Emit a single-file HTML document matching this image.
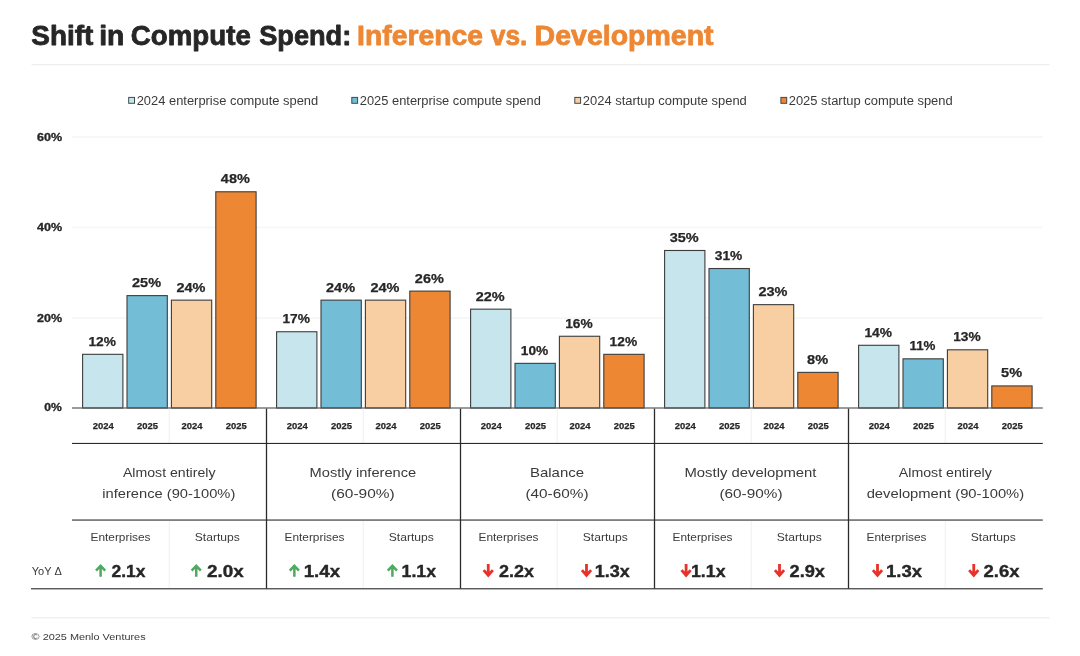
<!DOCTYPE html>
<html lang="en">
<head>
<meta charset="utf-8">
<title>Shift in Compute Spend: Inference vs. Development</title>
<style>
html,body{margin:0;padding:0;background:#fff;}
body{width:1080px;height:656px;overflow:hidden;font-family:"Liberation Sans",sans-serif;}
svg{display:block;}
text{font-family:"Liberation Sans",sans-serif;}
</style>
</head>
<body>
<svg width="1080" height="656" viewBox="0 0 1080 656">
<rect width="1080" height="656" fill="#fff"/>

<g id="title">
<text x="31.3" y="44.6" font-size="27" font-weight="700" fill="#262626" stroke="#262626" stroke-width="0.8" stroke-linejoin="round" textLength="62.01" lengthAdjust="spacingAndGlyphs">Shift</text>
<text x="99.2" y="44.6" font-size="27" font-weight="700" fill="#262626" stroke="#262626" stroke-width="0.8" stroke-linejoin="round" textLength="25.19" lengthAdjust="spacingAndGlyphs">in</text>
<text x="130.8" y="44.6" font-size="27" font-weight="700" fill="#262626" stroke="#262626" stroke-width="0.8" stroke-linejoin="round" textLength="120.0" lengthAdjust="spacingAndGlyphs">Compute</text>
<text x="259.2" y="44.6" font-size="27" font-weight="700" fill="#262626" stroke="#262626" stroke-width="0.8" stroke-linejoin="round" textLength="92.03" lengthAdjust="spacingAndGlyphs">Spend:</text>
<text x="357.09" y="44.6" font-size="27" font-weight="700" fill="#ee8733" stroke="#ee8733" stroke-width="0.8" stroke-linejoin="round" textLength="126.02" lengthAdjust="spacingAndGlyphs">Inference</text>
<text x="490.8" y="44.6" font-size="27" font-weight="700" fill="#ee8733" stroke="#ee8733" stroke-width="0.8" stroke-linejoin="round" textLength="36.56" lengthAdjust="spacingAndGlyphs">vs.</text>
<text x="534.6" y="44.6" font-size="27" font-weight="700" fill="#ee8733" stroke="#ee8733" stroke-width="0.8" stroke-linejoin="round" textLength="179.0" lengthAdjust="spacingAndGlyphs">Development</text>
<rect x="31.5" y="63.9" width="1018" height="1.3" fill="#eeeeee"/>
</g>
<g id="legend">
<rect x="128.7" y="97.4" width="5.8" height="5.9" fill="#c6e5ed" stroke="#3f4a4f" stroke-width="1"/>
<text x="136.7" y="104.8" font-size="12" fill="#3a3a3a" textLength="181.51" lengthAdjust="spacingAndGlyphs">2024 enterprise compute spend</text>
<rect x="351.8" y="97.4" width="5.8" height="5.9" fill="#74bdd7" stroke="#3f4a4f" stroke-width="1"/>
<text x="359.8" y="104.8" font-size="12" fill="#3a3a3a" textLength="181.0" lengthAdjust="spacingAndGlyphs">2025 enterprise compute spend</text>
<rect x="574.8" y="97.4" width="5.8" height="5.9" fill="#f8cfa3" stroke="#3f4a4f" stroke-width="1"/>
<text x="582.8" y="104.8" font-size="12" fill="#3a3a3a" textLength="164.0" lengthAdjust="spacingAndGlyphs">2024 startup compute spend</text>
<rect x="780.9" y="97.4" width="5.8" height="5.9" fill="#ee8733" stroke="#3f4a4f" stroke-width="1"/>
<text x="788.7" y="104.8" font-size="12" fill="#3a3a3a" textLength="164.0" lengthAdjust="spacingAndGlyphs">2025 startup compute spend</text>
</g>
<g id="grid">
<rect x="72" y="136.10" width="970.8" height="1.8" fill="#f7f7f7"/>
<rect x="72" y="226.60" width="970.8" height="1.8" fill="#f7f7f7"/>
<rect x="72" y="317.10" width="970.8" height="1.8" fill="#f7f7f7"/>
<text x="37.0" y="140.6" font-size="10" font-weight="700" fill="#262626" stroke="#262626" stroke-width="0.3" stroke-linejoin="round" textLength="25.02" lengthAdjust="spacingAndGlyphs">60%</text>
<text x="37.0" y="231.1" font-size="10" font-weight="700" fill="#262626" stroke="#262626" stroke-width="0.3" stroke-linejoin="round" textLength="25.02" lengthAdjust="spacingAndGlyphs">40%</text>
<text x="37.0" y="321.6" font-size="10" font-weight="700" fill="#262626" stroke="#262626" stroke-width="0.3" stroke-linejoin="round" textLength="25.02" lengthAdjust="spacingAndGlyphs">20%</text>
<text x="44.3" y="411.4" font-size="10" font-weight="700" fill="#262626" stroke="#262626" stroke-width="0.3" stroke-linejoin="round" textLength="17.51" lengthAdjust="spacingAndGlyphs">0%</text>
</g>
<g id="bars">
<rect x="168.70" y="409" width="1" height="34" fill="#f0f0f0"/>
<rect x="168.70" y="521" width="1" height="67" fill="#f0f0f0"/>
<rect x="82.60" y="354.32" width="40.30" height="53.68" fill="#c6e5ed" stroke="#3c3c3c" stroke-width="1.1"/>
<text x="88.4" y="345.72" font-size="13.2" font-weight="700" fill="#262626" stroke="#262626" stroke-width="0.25" stroke-linejoin="round" textLength="27.52" lengthAdjust="spacingAndGlyphs">12%</text>
<text x="92.65" y="429.1" font-size="9.9" font-weight="700" fill="#262626" stroke="#262626" stroke-width="0.25" stroke-linejoin="round" textLength="21.0" lengthAdjust="spacingAndGlyphs">2024</text>
<rect x="127.00" y="295.62" width="40.30" height="112.38" fill="#74bdd7" stroke="#3c3c3c" stroke-width="1.1"/>
<text x="132.05" y="287.02" font-size="13.2" font-weight="700" fill="#262626" stroke="#262626" stroke-width="0.25" stroke-linejoin="round" textLength="29.0" lengthAdjust="spacingAndGlyphs">25%</text>
<text x="137.05" y="429.1" font-size="9.9" font-weight="700" fill="#262626" stroke="#262626" stroke-width="0.25" stroke-linejoin="round" textLength="21.0" lengthAdjust="spacingAndGlyphs">2025</text>
<rect x="171.40" y="300.14" width="40.30" height="107.86" fill="#f8cfa3" stroke="#3c3c3c" stroke-width="1.1"/>
<text x="176.45" y="291.54" font-size="13.2" font-weight="700" fill="#262626" stroke="#262626" stroke-width="0.25" stroke-linejoin="round" textLength="29.0" lengthAdjust="spacingAndGlyphs">24%</text>
<text x="181.45" y="429.1" font-size="9.9" font-weight="700" fill="#262626" stroke="#262626" stroke-width="0.25" stroke-linejoin="round" textLength="21.0" lengthAdjust="spacingAndGlyphs">2024</text>
<rect x="215.80" y="191.78" width="40.30" height="216.22" fill="#ee8733" stroke="#3c3c3c" stroke-width="1.1"/>
<text x="220.85" y="183.18" font-size="13.2" font-weight="700" fill="#262626" stroke="#262626" stroke-width="0.25" stroke-linejoin="round" textLength="29.0" lengthAdjust="spacingAndGlyphs">48%</text>
<text x="225.85" y="429.1" font-size="9.9" font-weight="700" fill="#262626" stroke="#262626" stroke-width="0.25" stroke-linejoin="round" textLength="21.0" lengthAdjust="spacingAndGlyphs">2025</text>
<rect x="362.70" y="409" width="1" height="34" fill="#f0f0f0"/>
<rect x="362.70" y="521" width="1" height="67" fill="#f0f0f0"/>
<rect x="276.60" y="331.75" width="40.30" height="76.25" fill="#c6e5ed" stroke="#3c3c3c" stroke-width="1.1"/>
<text x="282.4" y="323.14" font-size="13.2" font-weight="700" fill="#262626" stroke="#262626" stroke-width="0.25" stroke-linejoin="round" textLength="27.52" lengthAdjust="spacingAndGlyphs">17%</text>
<text x="286.65" y="429.1" font-size="9.9" font-weight="700" fill="#262626" stroke="#262626" stroke-width="0.25" stroke-linejoin="round" textLength="21.0" lengthAdjust="spacingAndGlyphs">2024</text>
<rect x="321.00" y="300.14" width="40.30" height="107.86" fill="#74bdd7" stroke="#3c3c3c" stroke-width="1.1"/>
<text x="326.05" y="291.54" font-size="13.2" font-weight="700" fill="#262626" stroke="#262626" stroke-width="0.25" stroke-linejoin="round" textLength="29.0" lengthAdjust="spacingAndGlyphs">24%</text>
<text x="331.05" y="429.1" font-size="9.9" font-weight="700" fill="#262626" stroke="#262626" stroke-width="0.25" stroke-linejoin="round" textLength="21.0" lengthAdjust="spacingAndGlyphs">2025</text>
<rect x="365.40" y="300.14" width="40.30" height="107.86" fill="#f8cfa3" stroke="#3c3c3c" stroke-width="1.1"/>
<text x="370.45" y="291.54" font-size="13.2" font-weight="700" fill="#262626" stroke="#262626" stroke-width="0.25" stroke-linejoin="round" textLength="29.0" lengthAdjust="spacingAndGlyphs">24%</text>
<text x="375.45" y="429.1" font-size="9.9" font-weight="700" fill="#262626" stroke="#262626" stroke-width="0.25" stroke-linejoin="round" textLength="21.0" lengthAdjust="spacingAndGlyphs">2024</text>
<rect x="409.80" y="291.11" width="40.30" height="116.89" fill="#ee8733" stroke="#3c3c3c" stroke-width="1.1"/>
<text x="414.85" y="282.51" font-size="13.2" font-weight="700" fill="#262626" stroke="#262626" stroke-width="0.25" stroke-linejoin="round" textLength="29.0" lengthAdjust="spacingAndGlyphs">26%</text>
<text x="419.85" y="429.1" font-size="9.9" font-weight="700" fill="#262626" stroke="#262626" stroke-width="0.25" stroke-linejoin="round" textLength="21.0" lengthAdjust="spacingAndGlyphs">2025</text>
<rect x="556.70" y="409" width="1" height="34" fill="#f0f0f0"/>
<rect x="556.70" y="521" width="1" height="67" fill="#f0f0f0"/>
<rect x="470.60" y="309.17" width="40.30" height="98.83" fill="#c6e5ed" stroke="#3c3c3c" stroke-width="1.1"/>
<text x="475.65" y="300.57" font-size="13.2" font-weight="700" fill="#262626" stroke="#262626" stroke-width="0.25" stroke-linejoin="round" textLength="29.0" lengthAdjust="spacingAndGlyphs">22%</text>
<text x="480.65" y="429.1" font-size="9.9" font-weight="700" fill="#262626" stroke="#262626" stroke-width="0.25" stroke-linejoin="round" textLength="21.0" lengthAdjust="spacingAndGlyphs">2024</text>
<rect x="515.00" y="363.35" width="40.30" height="44.65" fill="#74bdd7" stroke="#3c3c3c" stroke-width="1.1"/>
<text x="520.8" y="354.75" font-size="13.2" font-weight="700" fill="#262626" stroke="#262626" stroke-width="0.25" stroke-linejoin="round" textLength="27.52" lengthAdjust="spacingAndGlyphs">10%</text>
<text x="525.05" y="429.1" font-size="9.9" font-weight="700" fill="#262626" stroke="#262626" stroke-width="0.25" stroke-linejoin="round" textLength="21.0" lengthAdjust="spacingAndGlyphs">2025</text>
<rect x="559.40" y="336.26" width="40.30" height="71.74" fill="#f8cfa3" stroke="#3c3c3c" stroke-width="1.1"/>
<text x="565.2" y="327.66" font-size="13.2" font-weight="700" fill="#262626" stroke="#262626" stroke-width="0.25" stroke-linejoin="round" textLength="27.52" lengthAdjust="spacingAndGlyphs">16%</text>
<text x="569.45" y="429.1" font-size="9.9" font-weight="700" fill="#262626" stroke="#262626" stroke-width="0.25" stroke-linejoin="round" textLength="21.0" lengthAdjust="spacingAndGlyphs">2024</text>
<rect x="603.80" y="354.32" width="40.30" height="53.68" fill="#ee8733" stroke="#3c3c3c" stroke-width="1.1"/>
<text x="609.6" y="345.72" font-size="13.2" font-weight="700" fill="#262626" stroke="#262626" stroke-width="0.25" stroke-linejoin="round" textLength="27.52" lengthAdjust="spacingAndGlyphs">12%</text>
<text x="613.85" y="429.1" font-size="9.9" font-weight="700" fill="#262626" stroke="#262626" stroke-width="0.25" stroke-linejoin="round" textLength="21.0" lengthAdjust="spacingAndGlyphs">2025</text>
<rect x="750.70" y="409" width="1" height="34" fill="#f0f0f0"/>
<rect x="750.70" y="521" width="1" height="67" fill="#f0f0f0"/>
<rect x="664.60" y="250.48" width="40.30" height="157.52" fill="#c6e5ed" stroke="#3c3c3c" stroke-width="1.1"/>
<text x="669.65" y="241.88" font-size="13.2" font-weight="700" fill="#262626" stroke="#262626" stroke-width="0.25" stroke-linejoin="round" textLength="29.0" lengthAdjust="spacingAndGlyphs">35%</text>
<text x="674.65" y="429.1" font-size="9.9" font-weight="700" fill="#262626" stroke="#262626" stroke-width="0.25" stroke-linejoin="round" textLength="21.0" lengthAdjust="spacingAndGlyphs">2024</text>
<rect x="709.00" y="268.53" width="40.30" height="139.47" fill="#74bdd7" stroke="#3c3c3c" stroke-width="1.1"/>
<text x="714.8" y="259.93" font-size="13.2" font-weight="700" fill="#262626" stroke="#262626" stroke-width="0.25" stroke-linejoin="round" textLength="27.52" lengthAdjust="spacingAndGlyphs">31%</text>
<text x="719.05" y="429.1" font-size="9.9" font-weight="700" fill="#262626" stroke="#262626" stroke-width="0.25" stroke-linejoin="round" textLength="21.0" lengthAdjust="spacingAndGlyphs">2025</text>
<rect x="753.40" y="304.65" width="40.30" height="103.35" fill="#f8cfa3" stroke="#3c3c3c" stroke-width="1.1"/>
<text x="758.45" y="296.05" font-size="13.2" font-weight="700" fill="#262626" stroke="#262626" stroke-width="0.25" stroke-linejoin="round" textLength="29.0" lengthAdjust="spacingAndGlyphs">23%</text>
<text x="763.45" y="429.1" font-size="9.9" font-weight="700" fill="#262626" stroke="#262626" stroke-width="0.25" stroke-linejoin="round" textLength="21.0" lengthAdjust="spacingAndGlyphs">2024</text>
<rect x="797.80" y="372.38" width="40.30" height="35.62" fill="#ee8733" stroke="#3c3c3c" stroke-width="1.1"/>
<text x="807.05" y="363.78" font-size="13.2" font-weight="700" fill="#262626" stroke="#262626" stroke-width="0.25" stroke-linejoin="round" textLength="21.03" lengthAdjust="spacingAndGlyphs">8%</text>
<text x="807.85" y="429.1" font-size="9.9" font-weight="700" fill="#262626" stroke="#262626" stroke-width="0.25" stroke-linejoin="round" textLength="21.0" lengthAdjust="spacingAndGlyphs">2025</text>
<rect x="944.70" y="409" width="1" height="34" fill="#f0f0f0"/>
<rect x="944.70" y="521" width="1" height="67" fill="#f0f0f0"/>
<rect x="858.60" y="345.29" width="40.30" height="62.71" fill="#c6e5ed" stroke="#3c3c3c" stroke-width="1.1"/>
<text x="864.4" y="336.69" font-size="13.2" font-weight="700" fill="#262626" stroke="#262626" stroke-width="0.25" stroke-linejoin="round" textLength="27.52" lengthAdjust="spacingAndGlyphs">14%</text>
<text x="868.65" y="429.1" font-size="9.9" font-weight="700" fill="#262626" stroke="#262626" stroke-width="0.25" stroke-linejoin="round" textLength="21.0" lengthAdjust="spacingAndGlyphs">2024</text>
<rect x="903.00" y="358.83" width="40.30" height="49.17" fill="#74bdd7" stroke="#3c3c3c" stroke-width="1.1"/>
<text x="909.45" y="350.23" font-size="13.2" font-weight="700" fill="#262626" stroke="#262626" stroke-width="0.25" stroke-linejoin="round" textLength="26.01" lengthAdjust="spacingAndGlyphs">11%</text>
<text x="913.05" y="429.1" font-size="9.9" font-weight="700" fill="#262626" stroke="#262626" stroke-width="0.25" stroke-linejoin="round" textLength="21.0" lengthAdjust="spacingAndGlyphs">2025</text>
<rect x="947.40" y="349.81" width="40.30" height="58.19" fill="#f8cfa3" stroke="#3c3c3c" stroke-width="1.1"/>
<text x="953.2" y="341.2" font-size="13.2" font-weight="700" fill="#262626" stroke="#262626" stroke-width="0.25" stroke-linejoin="round" textLength="27.52" lengthAdjust="spacingAndGlyphs">13%</text>
<text x="957.45" y="429.1" font-size="9.9" font-weight="700" fill="#262626" stroke="#262626" stroke-width="0.25" stroke-linejoin="round" textLength="21.0" lengthAdjust="spacingAndGlyphs">2024</text>
<rect x="991.80" y="385.93" width="40.30" height="22.07" fill="#ee8733" stroke="#3c3c3c" stroke-width="1.1"/>
<text x="1001.05" y="377.32" font-size="13.2" font-weight="700" fill="#262626" stroke="#262626" stroke-width="0.25" stroke-linejoin="round" textLength="21.03" lengthAdjust="spacingAndGlyphs">5%</text>
<text x="1001.85" y="429.1" font-size="9.9" font-weight="700" fill="#262626" stroke="#262626" stroke-width="0.25" stroke-linejoin="round" textLength="21.0" lengthAdjust="spacingAndGlyphs">2025</text>
</g>
<g id="lines" fill="#2b2b2b">
<rect x="72" y="407.4" width="970.8" height="1.2" fill="#5a5a5a"/>
<rect x="72" y="442.9" width="970.8" height="1.1"/>
<rect x="72" y="519.5" width="970.8" height="1.1"/>
<rect x="31" y="588.1" width="1011.8" height="1.3" fill="#4a4a4a"/>
<rect x="265.85" y="408.6" width="1.3" height="180"/>
<rect x="459.85" y="408.6" width="1.3" height="180"/>
<rect x="653.85" y="408.6" width="1.3" height="180"/>
<rect x="847.85" y="408.6" width="1.3" height="180"/>
</g>
<g id="cats">
<text x="122.95" y="476.5" font-size="13.3" fill="#3a3a3a" textLength="92.51" lengthAdjust="spacingAndGlyphs">Almost entirely</text>
<text x="102.29" y="498.1" font-size="13.3" fill="#3a3a3a" textLength="133.02" lengthAdjust="spacingAndGlyphs">inference (90-100%)</text>
<text x="90.49" y="540.8" font-size="11.5" fill="#3a3a3a" textLength="60.02" lengthAdjust="spacingAndGlyphs">Enterprises</text>
<path d="M100.60 576.7V566.2M96.00 570.7L100.60 565.8L105.20 570.7" fill="none" stroke="#4fa95f" stroke-width="2.5" stroke-linejoin="miter"/>
<text x="111.5" y="576.8" font-size="17.3" font-weight="700" fill="#262626" stroke="#262626" stroke-width="0.4" stroke-linejoin="round" textLength="34.0" lengthAdjust="spacingAndGlyphs">2.1x</text>
<text x="194.78" y="540.8" font-size="11.5" fill="#3a3a3a" textLength="45.03" lengthAdjust="spacingAndGlyphs">Startups</text>
<path d="M196.25 576.7V566.2M191.65 570.7L196.25 565.8L200.85 570.7" fill="none" stroke="#4fa95f" stroke-width="2.5" stroke-linejoin="miter"/>
<text x="206.9" y="576.8" font-size="17.3" font-weight="700" fill="#262626" stroke="#262626" stroke-width="0.4" stroke-linejoin="round" textLength="36.77" lengthAdjust="spacingAndGlyphs">2.0x</text>
<text x="309.64" y="476.5" font-size="13.3" fill="#3a3a3a" textLength="106.52" lengthAdjust="spacingAndGlyphs">Mostly inference</text>
<text x="331.13" y="498.1" font-size="13.3" fill="#3a3a3a" textLength="63.56" lengthAdjust="spacingAndGlyphs">(60-90%)</text>
<text x="284.49" y="540.8" font-size="11.5" fill="#3a3a3a" textLength="60.02" lengthAdjust="spacingAndGlyphs">Enterprises</text>
<path d="M294.35 576.7V566.2M289.75 570.7L294.35 565.8L298.95 570.7" fill="none" stroke="#4fa95f" stroke-width="2.5" stroke-linejoin="miter"/>
<text x="303.66" y="576.8" font-size="17.3" font-weight="700" fill="#262626" stroke="#262626" stroke-width="0.4" stroke-linejoin="round" textLength="36.56" lengthAdjust="spacingAndGlyphs">1.4x</text>
<text x="388.78" y="540.8" font-size="11.5" fill="#3a3a3a" textLength="45.03" lengthAdjust="spacingAndGlyphs">Startups</text>
<path d="M392.40 576.7V566.2M387.80 570.7L392.40 565.8L397.00 570.7" fill="none" stroke="#4fa95f" stroke-width="2.5" stroke-linejoin="miter"/>
<text x="401.56" y="576.8" font-size="17.3" font-weight="700" fill="#262626" stroke="#262626" stroke-width="0.4" stroke-linejoin="round" textLength="34.55" lengthAdjust="spacingAndGlyphs">1.1x</text>
<text x="529.97" y="476.5" font-size="13.3" fill="#3a3a3a" textLength="54.05" lengthAdjust="spacingAndGlyphs">Balance</text>
<text x="525.47" y="498.1" font-size="13.3" fill="#3a3a3a" textLength="63.04" lengthAdjust="spacingAndGlyphs">(40-60%)</text>
<text x="478.49" y="540.8" font-size="11.5" fill="#3a3a3a" textLength="60.02" lengthAdjust="spacingAndGlyphs">Enterprises</text>
<path d="M488.25 564.1V575M483.65 570.1L488.25 575.3L492.85 570.1" fill="none" stroke="#e8312b" stroke-width="2.8" stroke-linejoin="miter"/>
<text x="499.1" y="576.8" font-size="17.3" font-weight="700" fill="#262626" stroke="#262626" stroke-width="0.4" stroke-linejoin="round" textLength="35.01" lengthAdjust="spacingAndGlyphs">2.2x</text>
<text x="582.78" y="540.8" font-size="11.5" fill="#3a3a3a" textLength="45.03" lengthAdjust="spacingAndGlyphs">Startups</text>
<path d="M586.50 564.1V575M581.90 570.1L586.50 575.3L591.10 570.1" fill="none" stroke="#e8312b" stroke-width="2.8" stroke-linejoin="miter"/>
<text x="594.78" y="576.8" font-size="17.3" font-weight="700" fill="#262626" stroke="#262626" stroke-width="0.4" stroke-linejoin="round" textLength="35.04" lengthAdjust="spacingAndGlyphs">1.3x</text>
<text x="684.5" y="476.5" font-size="13.3" fill="#3a3a3a" textLength="132.01" lengthAdjust="spacingAndGlyphs">Mostly development</text>
<text x="719.47" y="498.1" font-size="13.3" fill="#3a3a3a" textLength="63.04" lengthAdjust="spacingAndGlyphs">(60-90%)</text>
<text x="672.49" y="540.8" font-size="11.5" fill="#3a3a3a" textLength="60.02" lengthAdjust="spacingAndGlyphs">Enterprises</text>
<path d="M686.10 564.1V575M681.50 570.1L686.10 575.3L690.70 570.1" fill="none" stroke="#e8312b" stroke-width="2.8" stroke-linejoin="miter"/>
<text x="690.96" y="576.8" font-size="17.3" font-weight="700" fill="#262626" stroke="#262626" stroke-width="0.4" stroke-linejoin="round" textLength="34.55" lengthAdjust="spacingAndGlyphs">1.1x</text>
<text x="776.78" y="540.8" font-size="11.5" fill="#3a3a3a" textLength="45.03" lengthAdjust="spacingAndGlyphs">Startups</text>
<path d="M779.50 564.1V575M774.90 570.1L779.50 575.3L784.10 570.1" fill="none" stroke="#e8312b" stroke-width="2.8" stroke-linejoin="miter"/>
<text x="789.5" y="576.8" font-size="17.3" font-weight="700" fill="#262626" stroke="#262626" stroke-width="0.4" stroke-linejoin="round" textLength="35.51" lengthAdjust="spacingAndGlyphs">2.9x</text>
<text x="898.8" y="476.5" font-size="13.3" fill="#3a3a3a" textLength="93.0" lengthAdjust="spacingAndGlyphs">Almost entirely</text>
<text x="866.65" y="498.1" font-size="13.3" fill="#3a3a3a" textLength="157.5" lengthAdjust="spacingAndGlyphs">development (90-100%)</text>
<text x="866.49" y="540.8" font-size="11.5" fill="#3a3a3a" textLength="60.02" lengthAdjust="spacingAndGlyphs">Enterprises</text>
<path d="M877.50 564.1V575M872.90 570.1L877.50 575.3L882.10 570.1" fill="none" stroke="#e8312b" stroke-width="2.8" stroke-linejoin="miter"/>
<text x="885.97" y="576.8" font-size="17.3" font-weight="700" fill="#262626" stroke="#262626" stroke-width="0.4" stroke-linejoin="round" textLength="36.03" lengthAdjust="spacingAndGlyphs">1.3x</text>
<text x="970.78" y="540.8" font-size="11.5" fill="#3a3a3a" textLength="45.03" lengthAdjust="spacingAndGlyphs">Startups</text>
<path d="M973.75 564.1V575M969.15 570.1L973.75 575.3L978.35 570.1" fill="none" stroke="#e8312b" stroke-width="2.8" stroke-linejoin="miter"/>
<text x="983.5" y="576.8" font-size="17.3" font-weight="700" fill="#262626" stroke="#262626" stroke-width="0.4" stroke-linejoin="round" textLength="36.0" lengthAdjust="spacingAndGlyphs">2.6x</text>
<text x="31.8" y="575" font-size="10.3" fill="#3a3a3a" textLength="30.0" lengthAdjust="spacingAndGlyphs">YoY Δ</text>
</g>
<g id="footer">
<rect x="31.5" y="617.0" width="1018" height="1.5" fill="#f0f0f0"/>
<text x="31.6" y="639.8" font-size="9.7" fill="#3a3a3a" textLength="114.01" lengthAdjust="spacingAndGlyphs">© 2025 Menlo Ventures</text>
</g>
</svg>
</body>
</html>
